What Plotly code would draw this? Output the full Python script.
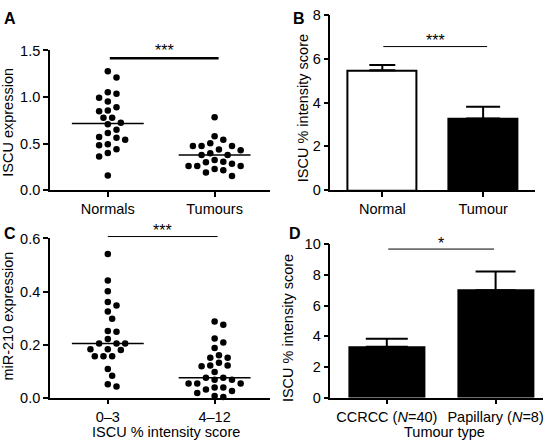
import numpy as np
import plotly.graph_objects as go

W, H = 552, 448
FONT = "Liberation Sans, Arial, Helvetica, sans-serif"

# ---------------- data ----------------
# Panel A: ISCU expression (dot plot)
a_categories = ["Normals", "Tumours"]
a_normals = [1.276, 1.21, 1.052, 1.034, 0.993, 0.952, 0.89, 0.855, 0.848, 0.779,
             0.779, 0.724, 0.707, 0.648, 0.614, 0.572, 0.562, 0.541, 0.493, 0.483,
             0.441, 0.40, 0.362, 0.159]
a_tumours = [0.783, 0.579, 0.541, 0.503, 0.476, 0.476, 0.476, 0.438, 0.428, 0.397,
             0.379, 0.379, 0.324, 0.307, 0.30, 0.283, 0.259, 0.259, 0.259, 0.228,
             0.214, 0.19, 0.152]
a_yticks = [0.0, 0.5, 1.0, 1.5]

# Panel B: ISCU % intensity score (bars)
b_categories = ["Normal", "Tumour"]
b_means = [5.47, 3.27]
b_err = [0.24, 0.54]
b_yticks = [0, 2, 4, 6, 8]

# Panel C: miR-210 expression by ISCU score (dot plot)
c_categories = ["0\u20133", "4\u201312"]
c_low = [0.541, 0.441, 0.401, 0.36, 0.347, 0.325, 0.297, 0.251, 0.248, 0.221,
         0.204, 0.204, 0.204, 0.182, 0.182, 0.179, 0.156, 0.156, 0.156, 0.108,
         0.082, 0.05, 0.042]
c_high = [0.287, 0.275, 0.223, 0.208, 0.187, 0.16, 0.15, 0.15, 0.131, 0.121,
          0.121, 0.118, 0.096, 0.075, 0.075, 0.067, 0.067, 0.053, 0.053, 0.053,
          0.038, 0.038, 0.03, 0.025, 0.017, 0.006, 0.002]
c_yticks = [0.0, 0.2, 0.4, 0.6]

# Panel D: ISCU % intensity score by tumour type (bars)
d_categories = ["CCRCC (<i>N</i>=40)", "Papillary (<i>N</i>=8)"]
d_means = [3.31, 7.0]
d_err = [0.53, 1.22]
d_yticks = [0, 2, 4, 6, 8, 10]

# ---------------- layout helpers (pixels -> paper) ----------------
def px(x):
    return x / W

def py(y):
    return 1 - y / H

def xrange_for(ax0, ax1, c1, c2):
    u = c2 - c1
    return [1 - (c1 - ax0) / u, 2 + (ax1 - c2) / u]

# panel pixel geometry: axis x0, x1, y_top, y_bottom, category pixel centres
P = {
    "A": dict(x0=50, x1=270, yt=44, yb=189, c1=108, c2=215),
    "B": dict(x0=331, x1=536, yt=7, yb=189, c1=383, c2=484),
    "C": dict(x0=50, x1=270, yt=239, yb=404, c1=108, c2=215),
    "D": dict(x0=331, x1=544, yt=245, yb=404, c1=387.5, c2=496.5),
}


def swarm(vals, ypx, xpx, d=7.8, step=4.35):
    vals = np.asarray(vals, dtype=float)
    order = np.argsort(-vals, kind="stable")
    placed = []
    offs = np.zeros(len(vals))
    cands = [0.0]
    for j in range(1, 30):
        cands += [j * step, -j * step]
    for i in order:
        y = vals[i] * ypx
        chosen = cands[-1]
        for c in cands:
            if all((c - qx) ** 2 + (y - qy) ** 2 >= d * d - 1e-6 for qx, qy in placed):
                chosen = c
                break
        placed.append((chosen, y))
        offs[i] = chosen / xpx
    return offs


fig = go.Figure()

axis_common = dict(showline=True, linecolor="black", linewidth=1.5, ticks="outside",
                   ticklen=5, tickwidth=1.5, tickcolor="black", showgrid=False,
                   zeroline=False, fixedrange=True,
                   tickfont=dict(family=FONT, size=14.5, color="black"))

layout_axes = {}
names = ["A", "B", "C", "D"]
yranges = {"A": [0, 1.5], "B": [0, 8], "C": [0, 0.6], "D": [0, 10]}
yticks = {"A": a_yticks, "B": b_yticks, "C": c_yticks, "D": d_yticks}
ytickfmt = {"A": ".1f", "B": "d", "C": ".1f", "D": "d"}
xcats = {"A": a_categories, "B": b_categories, "C": c_categories, "D": d_categories}

for k, nm in enumerate(names):
    g = P[nm]
    sx = "" if k == 0 else str(k + 1)
    layout_axes["xaxis" + sx] = dict(
        axis_common, domain=[px(g["x0"]), px(g["x1"])],
        range=xrange_for(g["x0"], g["x1"], g["c1"], g["c2"]),
        tickvals=[1, 2], ticktext=xcats[nm], anchor="y" + sx)
    layout_axes["yaxis" + sx] = dict(
        axis_common, domain=[py(g["yb"]), py(g["yt"])], range=yranges[nm],
        tickvals=yticks[nm], tickformat=ytickfmt[nm], anchor="x" + sx)

# ---- dot plots (A, C) ----
shapes = []
for nm, sx, groups in [("A", "", [a_normals, a_tumours]), ("C", "3", [c_low, c_high])]:
    g = P[nm]
    ypx = (g["yb"] - g["yt"]) / (yranges[nm][1] - yranges[nm][0])
    xpx = g["c2"] - g["c1"]
    for ci, vals in enumerate(groups):
        offs = swarm(vals, ypx, xpx)
        fig.add_trace(go.Scatter(
            x=(ci + 1) + offs, y=vals, mode="markers", xaxis="x" + sx, yaxis="y" + sx,
            marker=dict(color="black", size=6.5, line=dict(width=0)),
            cliponaxis=False, showlegend=False, hoverinfo="y"))
        med = float(np.median(vals))
        half = 36 / xpx
        shapes.append(dict(type="line", xref="x" + sx, yref="y" + sx,
                           x0=ci + 1 - half, x1=ci + 1 + half, y0=med, y1=med,
                           line=dict(color="black", width=1.5)))

# ---- bar charts (B, D) ----
bar_specs = [
    ("B", "2", b_means, b_err, ["white", "black"], [13, 17], 0.683),
    ("D", "4", d_means, d_err, ["black", "black"], [21, 20], 0.69),
]
for nm, sx, means, errs, fills, capw, bw in bar_specs:
    for i in range(2):
        fig.add_trace(go.Bar(
            x=[i + 1], y=[means[i]], width=bw, xaxis="x" + sx, yaxis="y" + sx,
            marker=dict(color=fills[i], line=dict(color="black", width=2)),
            error_y=dict(type="data", symmetric=False, array=[errs[i]], arrayminus=[0],
                         color="black", thickness=2, width=capw[i]),
            showlegend=False, hoverinfo="y"))

# ---- significance lines ----
sig = [
    (110, 219, 52, 2.5, "***", 44),
    (384, 488, 40, 1.0, "***", 34),
    (108, 218, 237, 1.0, "***", 231),
    (389, 495, 250, 1.0, "*", 244),
]
annotations = []
for x0, x1, y, lw, txt, ty in sig:
    shapes.append(dict(type="line", xref="paper", yref="paper", x0=px(x0), x1=px(x1),
                       y0=py(y), y1=py(y), line=dict(color="black", width=lw)))
    annotations.append(dict(text=txt, xref="paper", yref="paper", x=px((x0 + x1) / 2),
                            y=py(ty), showarrow=False, xanchor="center", yanchor="middle",
                            font=dict(family=FONT, size=16, color="black")))

# ---- panel letters ----
for letter, x, y in [("A", 2, 11), ("B", 292, 11), ("C", 2, 234), ("D", 288, 234)]:
    annotations.append(dict(text="<b>%s</b>" % letter, xref="paper", yref="paper",
                            x=px(x), y=py(y), xanchor="left", yanchor="middle",
                            showarrow=False, font=dict(family=FONT, size=16, color="black")))

# ---- axis titles ----
for txt, x, y, ang in [("ISCU expression", 8, 118, -90),
                       ("ISCU % intensity score", 303.5, 104, -90),
                       ("miR-210 expression", 8, 319, -90),
                       ("ISCU % intensity score", 288.5, 332, -90),
                       ("ISCU % intensity score", 166, 440, 0),
                       ("Tumour type", 445, 440, 0)]:
    annotations.append(dict(text=txt, xref="paper", yref="paper", x=px(x), y=py(y),
                            xanchor="center", yanchor="middle", textangle=ang,
                            showarrow=False, font=dict(family=FONT, size=14.5, color="black")))

fig.update_layout(
    width=W, height=H, margin=dict(l=0, r=0, t=0, b=0),
    paper_bgcolor="white", plot_bgcolor="white",
    font=dict(family=FONT, size=14, color="black"),
    barmode="overlay",
    shapes=shapes, annotations=annotations, bargap=0, **layout_axes)

fig.write_html("out.html", config={"displayModeBar": False},
               post_script="document.body.style.margin='0';")
